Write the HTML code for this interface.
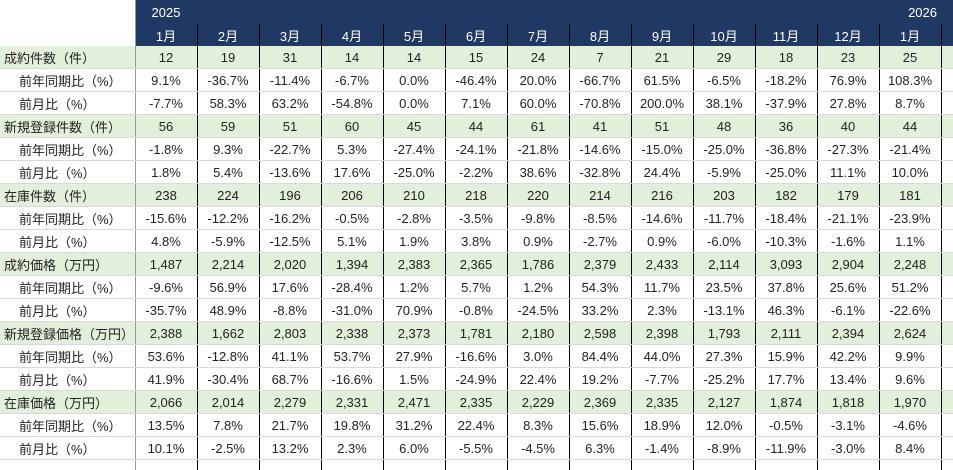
<!DOCTYPE html>
<html><head><meta charset="utf-8"><style>
body{margin:0;width:953px;height:468px;overflow:hidden;background:#fff;font-family:"Liberation Sans","Noto Sans CJK JP",sans-serif;font-size:13px;color:#222}
table{border-collapse:collapse;table-layout:fixed;position:absolute;left:0;top:0}
td{height:22px;padding:0;text-align:center;border-bottom:1px solid #d9d9d9;border-left:1.5px solid #000;white-space:nowrap;overflow:hidden}
td.l{text-align:left;border-left:none;border-right:1.5px solid #999;padding-left:4px}
td.s{padding-left:19px}
tr.g td{background:#e2efda}
tr.h td{background:#203864;color:#fff;border-bottom:none;border-left:none}
tr.m td{background:#203864;color:#fff;border-bottom:none}
tr.h td.l,tr.m td.l{background:#fff;border-right:1.5px solid #999}
tr.e td{border-bottom:none;height:10px}
</style></head><body>
<table>
<colgroup><col style="width:135px"><col span="13" style="width:62px"><col style="width:12px"></colgroup>
<tr class="h" style="height:24px"><td class="l"></td><td style="text-align:left;padding-left:16px">2025</td><td></td><td></td><td></td><td></td><td></td><td></td><td></td><td></td><td></td><td></td><td></td><td style="text-align:right;padding-right:4px;overflow:visible">2026</td><td></td></tr>
<tr class="m"><td class="l"></td><td>1月</td><td>2月</td><td>3月</td><td>4月</td><td>5月</td><td>6月</td><td>7月</td><td>8月</td><td>9月</td><td>10月</td><td>11月</td><td>12月</td><td>1月</td><td></td></tr>
<tr class="g"><td class="l">成約件数（件）</td><td>12</td><td>19</td><td>31</td><td>14</td><td>14</td><td>15</td><td>24</td><td>7</td><td>21</td><td>29</td><td>18</td><td>23</td><td>25</td><td></td></tr>
<tr><td class="l s">前年同期比（%）</td><td>9.1%</td><td>-36.7%</td><td>-11.4%</td><td>-6.7%</td><td>0.0%</td><td>-46.4%</td><td>20.0%</td><td>-66.7%</td><td>61.5%</td><td>-6.5%</td><td>-18.2%</td><td>76.9%</td><td>108.3%</td><td></td></tr>
<tr><td class="l s">前月比（%）</td><td>-7.7%</td><td>58.3%</td><td>63.2%</td><td>-54.8%</td><td>0.0%</td><td>7.1%</td><td>60.0%</td><td>-70.8%</td><td>200.0%</td><td>38.1%</td><td>-37.9%</td><td>27.8%</td><td>8.7%</td><td></td></tr>
<tr class="g"><td class="l">新規登録件数（件）</td><td>56</td><td>59</td><td>51</td><td>60</td><td>45</td><td>44</td><td>61</td><td>41</td><td>51</td><td>48</td><td>36</td><td>40</td><td>44</td><td></td></tr>
<tr><td class="l s">前年同期比（%）</td><td>-1.8%</td><td>9.3%</td><td>-22.7%</td><td>5.3%</td><td>-27.4%</td><td>-24.1%</td><td>-21.8%</td><td>-14.6%</td><td>-15.0%</td><td>-25.0%</td><td>-36.8%</td><td>-27.3%</td><td>-21.4%</td><td></td></tr>
<tr><td class="l s">前月比（%）</td><td>1.8%</td><td>5.4%</td><td>-13.6%</td><td>17.6%</td><td>-25.0%</td><td>-2.2%</td><td>38.6%</td><td>-32.8%</td><td>24.4%</td><td>-5.9%</td><td>-25.0%</td><td>11.1%</td><td>10.0%</td><td></td></tr>
<tr class="g"><td class="l">在庫件数（件）</td><td>238</td><td>224</td><td>196</td><td>206</td><td>210</td><td>218</td><td>220</td><td>214</td><td>216</td><td>203</td><td>182</td><td>179</td><td>181</td><td></td></tr>
<tr><td class="l s">前年同期比（%）</td><td>-15.6%</td><td>-12.2%</td><td>-16.2%</td><td>-0.5%</td><td>-2.8%</td><td>-3.5%</td><td>-9.8%</td><td>-8.5%</td><td>-14.6%</td><td>-11.7%</td><td>-18.4%</td><td>-21.1%</td><td>-23.9%</td><td></td></tr>
<tr><td class="l s">前月比（%）</td><td>4.8%</td><td>-5.9%</td><td>-12.5%</td><td>5.1%</td><td>1.9%</td><td>3.8%</td><td>0.9%</td><td>-2.7%</td><td>0.9%</td><td>-6.0%</td><td>-10.3%</td><td>-1.6%</td><td>1.1%</td><td></td></tr>
<tr class="g"><td class="l">成約価格（万円）</td><td>1,487</td><td>2,214</td><td>2,020</td><td>1,394</td><td>2,383</td><td>2,365</td><td>1,786</td><td>2,379</td><td>2,433</td><td>2,114</td><td>3,093</td><td>2,904</td><td>2,248</td><td></td></tr>
<tr><td class="l s">前年同期比（%）</td><td>-9.6%</td><td>56.9%</td><td>17.6%</td><td>-28.4%</td><td>1.2%</td><td>5.7%</td><td>1.2%</td><td>54.3%</td><td>11.7%</td><td>23.5%</td><td>37.8%</td><td>25.6%</td><td>51.2%</td><td></td></tr>
<tr><td class="l s">前月比（%）</td><td>-35.7%</td><td>48.9%</td><td>-8.8%</td><td>-31.0%</td><td>70.9%</td><td>-0.8%</td><td>-24.5%</td><td>33.2%</td><td>2.3%</td><td>-13.1%</td><td>46.3%</td><td>-6.1%</td><td>-22.6%</td><td></td></tr>
<tr class="g"><td class="l">新規登録価格（万円）</td><td>2,388</td><td>1,662</td><td>2,803</td><td>2,338</td><td>2,373</td><td>1,781</td><td>2,180</td><td>2,598</td><td>2,398</td><td>1,793</td><td>2,111</td><td>2,394</td><td>2,624</td><td></td></tr>
<tr><td class="l s">前年同期比（%）</td><td>53.6%</td><td>-12.8%</td><td>41.1%</td><td>53.7%</td><td>27.9%</td><td>-16.6%</td><td>3.0%</td><td>84.4%</td><td>44.0%</td><td>27.3%</td><td>15.9%</td><td>42.2%</td><td>9.9%</td><td></td></tr>
<tr><td class="l s">前月比（%）</td><td>41.9%</td><td>-30.4%</td><td>68.7%</td><td>-16.6%</td><td>1.5%</td><td>-24.9%</td><td>22.4%</td><td>19.2%</td><td>-7.7%</td><td>-25.2%</td><td>17.7%</td><td>13.4%</td><td>9.6%</td><td></td></tr>
<tr class="g"><td class="l">在庫価格（万円）</td><td>2,066</td><td>2,014</td><td>2,279</td><td>2,331</td><td>2,471</td><td>2,335</td><td>2,229</td><td>2,369</td><td>2,335</td><td>2,127</td><td>1,874</td><td>1,818</td><td>1,970</td><td></td></tr>
<tr><td class="l s">前年同期比（%）</td><td>13.5%</td><td>7.8%</td><td>21.7%</td><td>19.8%</td><td>31.2%</td><td>22.4%</td><td>8.3%</td><td>15.6%</td><td>18.9%</td><td>12.0%</td><td>-0.5%</td><td>-3.1%</td><td>-4.6%</td><td></td></tr>
<tr><td class="l s">前月比（%）</td><td>10.1%</td><td>-2.5%</td><td>13.2%</td><td>2.3%</td><td>6.0%</td><td>-5.5%</td><td>-4.5%</td><td>6.3%</td><td>-1.4%</td><td>-8.9%</td><td>-11.9%</td><td>-3.0%</td><td>8.4%</td><td></td></tr>
<tr class="e"><td class="l"></td><td></td><td></td><td></td><td></td><td></td><td></td><td></td><td></td><td></td><td></td><td></td><td></td><td></td><td></td></tr>
</table>
</body></html>
